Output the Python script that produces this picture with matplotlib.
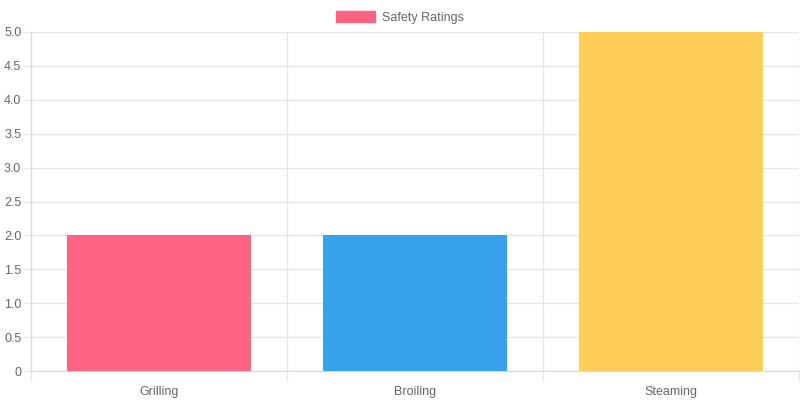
import matplotlib.pyplot as plt
import matplotlib.patches as mpatches
from matplotlib.ticker import FuncFormatter, MultipleLocator

plt.rcParams['font.family'] = ['Liberation Sans', 'DejaVu Sans']

# chart data
categories = ['Grilling', 'Broiling', 'Steaming']
ratings = [2, 2, 5]
bar_colors = ['#FF6384', '#36A2EB', '#FFCE56']
series_name = 'Safety Ratings'

fig = plt.figure(figsize=(8, 4), dpi=100)
ax = fig.add_axes([31 / 800, 29 / 400, 768 / 800, 339 / 400])

x = list(range(len(categories)))
ax.bar(x, ratings, width=0.72, color=bar_colors, zorder=3)

ax.set_xlim(-0.5, len(categories) - 0.5)
ax.set_ylim(0, 5)
ax.yaxis.set_major_locator(MultipleLocator(0.5))
ax.yaxis.set_major_formatter(FuncFormatter(lambda v, p: '0' if v == 0 else f'{v:.1f}'))

grid_color = '#e6e6e6'
ax.set_xticks(x)
ax.set_xticklabels(categories)
# category separators like chart.js offset grid lines
for b in [i - 0.5 for i in range(len(categories) + 1)]:
    ax.axvline(b, color=grid_color, lw=1, zorder=1)
    ax.plot([b, b], [0, -0.13], color=grid_color, lw=1, clip_on=False, zorder=1)
ax.grid(axis='y', color=grid_color, lw=1, zorder=1)

ax.tick_params(axis='x', length=0, pad=11, labelsize=9, labelcolor='#666666')
ax.tick_params(axis='y', length=6, width=1, color=grid_color, pad=1,
               labelsize=9, labelcolor='#666666')
for side in ['top', 'right']:
    ax.spines[side].set_visible(False)
ax.spines['left'].set_color('#d9d9d9')
ax.spines['bottom'].set_color('#d9d9d9')

handle = mpatches.Patch(color=bar_colors[0], label=series_name)
fig.legend(handles=[handle], loc='upper center', bbox_to_anchor=(0.5, 0.995),
           frameon=False, fontsize=9, labelcolor='#666666',
           handlelength=3.1, handleheight=1.0, handletextpad=0.6,
           borderaxespad=0.3)

fig.savefig('out.png', dpi=100)
